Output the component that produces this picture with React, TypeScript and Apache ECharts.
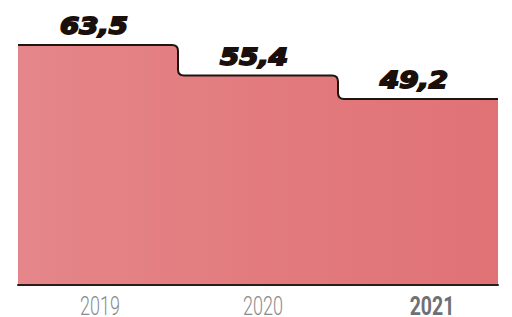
import React, { useEffect, useRef } from "react";
import * as echarts from "echarts";

const categories = ["2019", "2020", "2021"];
const values = [63.5, 55.4, 49.2];
const valueLabels = ["63,5", "55,4", "49,2"];

export default function App() {
  const ref = useRef<HTMLDivElement>(null);
  useEffect(() => {
    if (!ref.current) return;
    const chart = echarts.init(ref.current, undefined, { renderer: "svg" });
    const r = 6;
    const labelNudge = [2, 5, 14];
    const option = {
      animation: false,
      grid: { left: 18, right: 14, top: 45, bottom: 32 },
      xAxis: {
        type: "category",
        data: categories,
        boundaryGap: true,
        axisLine: { show: true, lineStyle: { color: "#2a1c18", width: 2 } },
        axisTick: { show: false },
        axisLabel: { show: false },
        z: 10,
      },
      yAxis: {
        type: "value",
        min: 0,
        max: "dataMax",
        show: false,
        splitLine: { show: false },
      },
      series: [
        {
          type: "custom",
          data: values.map((v, i) => [i, v]),
          encode: { x: 0, y: 1 },
          clip: false,
          renderItem: (params: any, api: any) => {
            if (params.dataIndex !== 0) return { type: "group", children: [] };
            const bw = api.size([1, 0])[0];
            const pts = values.map((v, i) => api.coord([i, v]));
            const base = api.coord([0, 0])[1];
            const x0 = pts[0][0] - bw / 2;
            const xEnd = pts[pts.length - 1][0] + bw / 2;
            let top = `M ${x0} ${pts[0][1]}`;
            for (let i = 0; i < pts.length - 1; i++) {
              const xb = pts[i][0] + bw / 2;
              const ya = pts[i][1];
              const yb = pts[i + 1][1];
              top += ` L ${xb - r} ${ya} Q ${xb} ${ya} ${xb} ${ya + r}`;
              top += ` L ${xb} ${yb - r} Q ${xb} ${yb} ${xb + r} ${yb}`;
            }
            top += ` L ${xEnd} ${pts[pts.length - 1][1]}`;
            const fillPath = `M ${x0} ${base} L ${top.slice(2)} L ${xEnd} ${base} Z`;
            const children: any[] = [
              {
                type: "path",
                shape: { pathData: fillPath },
                style: {
                  fill: {
                    type: "linear",
                    x: 0,
                    y: 0,
                    x2: 1,
                    y2: 0,
                    colorStops: [
                      { offset: 0, color: "#e5868a" },
                      { offset: 0.5, color: "#e27b7e" },
                      { offset: 1, color: "#e07276" },
                    ],
                  },
                  stroke: "none",
                },
              },
              {
                type: "path",
                shape: { pathData: top },
                style: { fill: "none", stroke: "#1e1410", lineWidth: 2 },
              },
            ];
            pts.forEach((p, i) => {
              children.push({
                type: "text",
                x: p[0] - 4,
                y: p[1] - 19,
                scaleX: 1.2,
                style: {
                  x: 0,
                  y: 0,
                  text: valueLabels[i],
                  fill: "#1a0f0a",
                  stroke: "#1a0f0a",
                  lineWidth: 1.8,
                  font: "italic 900 23px 'DejaVu Sans'",
                  align: "center",
                  verticalAlign: "middle",
                },
              });
              const last = i === categories.length - 1;
              children.push({
                type: "text",
                x: p[0] + labelNudge[i],
                y: base + 21,
                scaleX: last ? 0.78 : 0.72,
                style: {
                  x: 0,
                  y: 0,
                  text: categories[i],
                  fill: last ? "#6e7074" : "#8a8a8c",
                  font: `${last ? 700 : 300} 25px Roboto`,
                  align: "center",
                  verticalAlign: "middle",
                },
              });
            });
            return { type: "group", children };
          },
          z: 2,
        },
      ],
    };
    chart.setOption(option as any);
    return () => chart.dispose();
  }, []);
  return (
    <div
      ref={ref}
      style={{ position: "fixed", left: 0, top: 0, width: 512, height: 317, background: "#fff" }}
    />
  );
}
